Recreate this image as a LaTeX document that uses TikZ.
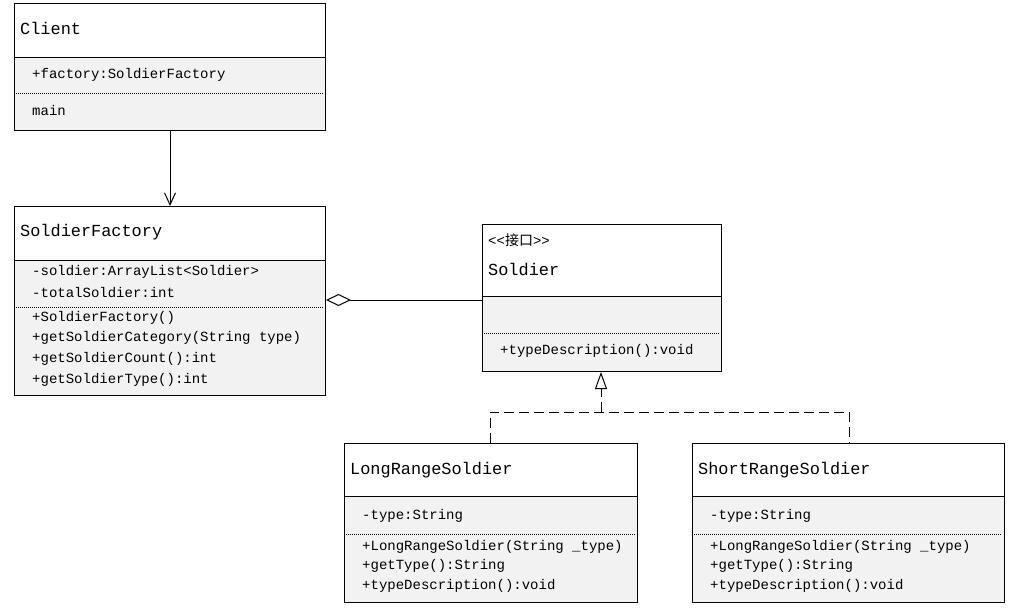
\documentclass[tikz,border=0pt]{standalone}
\usepackage{fontspec}
\newfontfamily\mono{Liberation Mono}
\newfontfamily\cjk{Noto Sans CJK SC}
\usetikzlibrary{arrows.meta}
\definecolor{bodyfill}{HTML}{F2F2F2}
\tikzset{
  hdr/.style={draw=black, line width=1pt, fill=white, anchor=north west, inner sep=0pt},
  bdy/.style={draw=black, line width=1pt, fill=bodyfill, anchor=north west, inner sep=0pt},
  ttl/.style={anchor=west, inner sep=0pt, font=\mono\fontsize{16.9}{18}\selectfont},
  mem/.style={anchor=west, inner sep=0pt, font=\mono\fontsize{14}{16}\selectfont},
  sep/.style={line width=0.6pt, dash pattern=on 1pt off 1pt},
  conn/.style={line width=1pt},
}
\begin{document}
\begin{tikzpicture}[x=1pt,y=-1pt]
\useasboundingbox (0,0) rectangle (1011,608);
% Client
\node[hdr, minimum width=311pt, minimum height=54pt] (clientH) at (14,3) {};
\node[bdy, minimum width=311pt, minimum height=73pt] (clientB) at (14,57) {};
\node[ttl] (clientT) at (20,28) {Client};
\node[mem] (clientA1) at (32,75) {+factory:SoldierFactory};
\draw[sep] (16,93) -- (323,93);
\node[mem] (clientM1) at (32,110) {main};
% SoldierFactory
\node[hdr, minimum width=311pt, minimum height=54pt] (sfH) at (14,206) {};
\node[bdy, minimum width=311pt, minimum height=135pt] (sfB) at (14,260) {};
\node[ttl] (sfT) at (20,232) {SoldierFactory};
\node[mem] (sfA1) at (32,272) {-soldier:ArrayList<Soldier>};
\node[mem] (sfA2) at (32,293) {-totalSoldier:int};
\draw[sep] (16,307) -- (323,307);
\node[mem] (sfM1) at (32,318) {+SoldierFactory()};
\node[mem] (sfM2) at (32,338) {+getSoldierCategory(String type)};
\node[mem] (sfM3) at (32,359) {+getSoldierCount():int};
\node[mem] (sfM4) at (32,380) {+getSoldierType():int};
% Soldier
\node[hdr, minimum width=239pt, minimum height=72pt] (sH) at (482,224) {};
\node[bdy, minimum width=239pt, minimum height=75pt] (sB) at (482,296) {};
\node[mem] (sSt) at (488,240) {<<{\cjk 接口}>>};
\node[ttl] (sT) at (488,269) {Soldier};
\draw[sep] (484,333) -- (719,333);
\node[mem] (sM1) at (500,351) {+typeDescription():void};
% LongRangeSoldier
\node[hdr, minimum width=293pt, minimum height=53pt] (lH) at (344,443) {};
\node[bdy, minimum width=293pt, minimum height=106pt] (lB) at (344,496) {};
\node[ttl] (lT) at (350,470) {LongRangeSoldier};
\node[mem] (lA1) at (362,516) {-type:String};
\draw[sep] (346,534) -- (635,534);
\node[mem] (lM1) at (362,547) {+LongRangeSoldier(String \_type)};
\node[mem] (lM2) at (362,566) {+getType():String};
\node[mem] (lM3) at (362,586) {+typeDescription():void};
% ShortRangeSoldier
\node[hdr, minimum width=312pt, minimum height=53pt] (rH) at (692,443) {};
\node[bdy, minimum width=312pt, minimum height=106pt] (rB) at (692,496) {};
\node[ttl] (rT) at (698,470) {ShortRangeSoldier};
\node[mem] (rA1) at (710,516) {-type:String};
\draw[sep] (694,534) -- (1002,534);
\node[mem] (rM1) at (710,547) {+LongRangeSoldier(String \_type)};
\node[mem] (rM2) at (710,566) {+getType():String};
\node[mem] (rM3) at (710,586) {+typeDescription():void};
% connectors
\draw[conn, -{Straight Barb[length=12pt,width=11pt]}] (clientB.south) -- (sfH.north);
\draw[conn, -{Diamond[open,length=25pt,width=12pt]}] (sB.west |- 0,300) -- (sfB.east |- 0,300);
\coordinate (jn) at (601,412);
\coordinate (jl) at (490,412);
\coordinate (jr) at (849,412);
\draw[conn, dash pattern=on 10pt off 5pt] (lH.north -| jl) -- (jl) -- (jr) -- (rH.north -| jr);
\draw[conn, dash pattern=on 10pt off 5pt, -{Triangle[open,length=17pt,width=12pt]}] (jn) -- (sB.south -| jn);
\end{tikzpicture}
\end{document}
